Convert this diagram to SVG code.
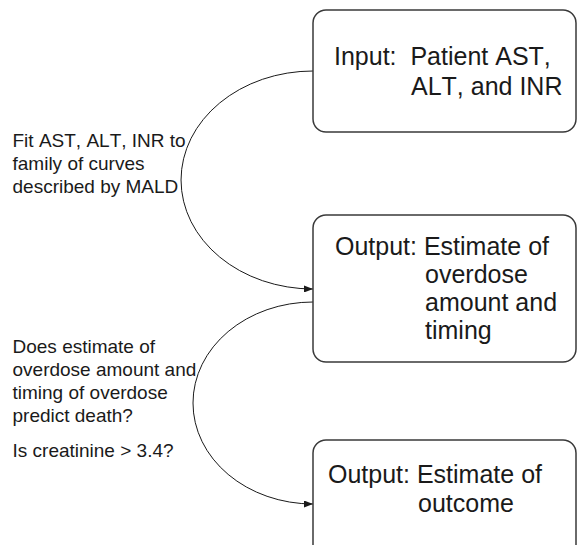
<svg xmlns="http://www.w3.org/2000/svg" width="578" height="545" viewBox="0 0 578 545">
<defs>
<style>
text{font-family:"Liberation Sans",Arial,sans-serif;fill:#1a1a1a;font-kerning:none}
.box{fill:#fff;stroke:#3a3a3a;stroke-width:1.5}
.big{font-size:25px;white-space:pre}
.lbl{font-size:19px}
.conn{fill:none;stroke:#1a1a1a;stroke-width:1}
</style>
<marker id="arr" markerWidth="9" markerHeight="7" refX="9" refY="3.5" orient="auto" markerUnits="userSpaceOnUse">
<path d="M0,0 L9,3.5 L0,7 Z" fill="#1a1a1a"/>
</marker>
</defs>
<rect width="578" height="545" fill="#fff"/>
<g id="connectors">
<path class="conn" d="M313,71 A132,109 0 0 0 313,289" marker-end="url(#arr)"/>
<path class="conn" d="M313,302 A120,101 0 0 0 313,504" marker-end="url(#arr)"/>
</g>
<g id="node-input">
<rect class="box" x="313" y="10" width="263" height="122" rx="13"/>
<text class="big" x="334" y="65" xml:space="preserve">Input:  Patient AST,</text>
<text class="big" x="411" y="95">ALT, and INR</text>
</g>
<g id="node-output1">
<rect class="box" x="313" y="215" width="263" height="147" rx="13"/>
<text class="big" x="335" y="255">Output: Estimate of</text>
<text class="big" x="425" y="283">overdose</text>
<text class="big" x="425" y="311">amount and</text>
<text class="big" x="425" y="339">timing</text>
</g>
<g id="node-output2">
<rect class="box" x="313" y="440" width="263" height="130" rx="13"/>
<text class="big" x="328" y="483">Output: Estimate of</text>
<text class="big" x="418" y="512">outcome</text>
</g>
<g id="label-fit">
<text class="lbl" x="12.5" y="147">Fit AST, ALT, INR to</text>
<text class="lbl" x="12.5" y="170">family of curves</text>
<text class="lbl" x="12.5" y="193">described by MALD</text>
</g>
<g id="label-predict">
<text class="lbl" x="12.5" y="353">Does estimate of</text>
<text class="lbl" x="12.5" y="376">overdose amount and</text>
<text class="lbl" x="12.5" y="399">timing of overdose</text>
<text class="lbl" x="12.5" y="422">predict death?</text>
<text class="lbl" x="12.5" y="457">Is creatinine &gt; 3.4?</text>
</g>
</svg>
